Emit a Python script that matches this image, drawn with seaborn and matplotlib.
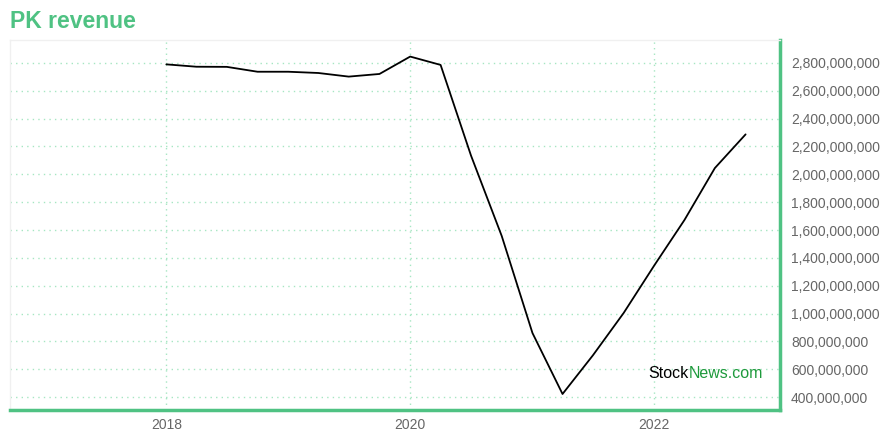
import pandas as pd
import numpy as np
import matplotlib
matplotlib.use("Agg")
import matplotlib.pyplot as plt
import matplotlib.dates as mdates
import matplotlib.ticker as mticker
import seaborn as sns

# Quarterly revenue (USD)
quarters = ["2018-01-01", "2018-04-01", "2018-07-01", "2018-10-01",
            "2019-01-01", "2019-04-01", "2019-07-01", "2019-10-01",
            "2020-01-01", "2020-04-01", "2020-07-01", "2020-10-01",
            "2021-01-01", "2021-04-01", "2021-07-01", "2021-10-01",
            "2022-01-01", "2022-04-01", "2022-07-01", "2022-10-01"]
revenue = [2.790e9, 2.773e9, 2.772e9, 2.737e9,
           2.737e9, 2.728e9, 2.702e9, 2.721e9,
           2.846e9, 2.786e9, 2.135e9, 1.557e9,
           0.860e9, 0.422e9, 0.700e9, 1.004e9,
           1.347e9, 1.672e9, 2.045e9, 2.287e9]
y_ticks = np.arange(400e6, 2.9e9, 200e6)

green = "#4fc283"
grid_green = "#a6e6c2"

df = pd.DataFrame({"date": pd.to_datetime(quarters), "revenue": revenue})

sns.set_style("white")
plt.rcParams["font.family"] = ["Liberation Sans", "DejaVu Sans"]

fig = plt.figure(figsize=(8.8, 4.4), dpi=100)
ax = fig.add_axes([10 / 880, 30 / 440, 770 / 880, 370 / 440])

sns.lineplot(data=df, x="date", y="revenue", ax=ax, color="black", linewidth=1.3)

ax.set_xlim(pd.Timestamp("2016-09-20"), pd.Timestamp("2023-01-12"))
ax.set_ylim(0.307e9, 2.965e9)

ax.xaxis.set_major_locator(mdates.YearLocator(2))
ax.xaxis.set_major_formatter(mdates.DateFormatter("%Y"))
ax.set_yticks(y_ticks)
ax.yaxis.set_major_formatter(mticker.FuncFormatter(lambda v, p: f"{v:,.0f}"))
ax.yaxis.tick_right()

ax.grid(True, color=grid_green, linestyle=(0, (1, 3)), linewidth=1)
ax.tick_params(axis="both", length=0, labelsize=10, colors="#666666")
ax.tick_params(axis="y", pad=8)
ax.tick_params(axis="x", pad=6)
ax.set_xlabel("")
ax.set_ylabel("")

for side in ["top", "left"]:
    ax.spines[side].set_color("#f0f0f0")
    ax.spines[side].set_linewidth(1)
for side in ["right", "bottom"]:
    ax.spines[side].set_color(green)
    ax.spines[side].set_linewidth(2.5)

fig.text(10 / 880, 1 - 22 / 440, "PK revenue", color=green, fontsize=16.5,
         fontweight="bold", va="center", ha="left")

# watermark
fig.text(689 / 880, 1 - 373 / 440, "Stock", color="black", fontsize=11.5,
         va="center", ha="right")
fig.text(689 / 880, 1 - 373 / 440, "News.com", color="#1e9a3c", fontsize=11.5,
         va="center", ha="left")

fig.savefig("out.png", dpi=100)
